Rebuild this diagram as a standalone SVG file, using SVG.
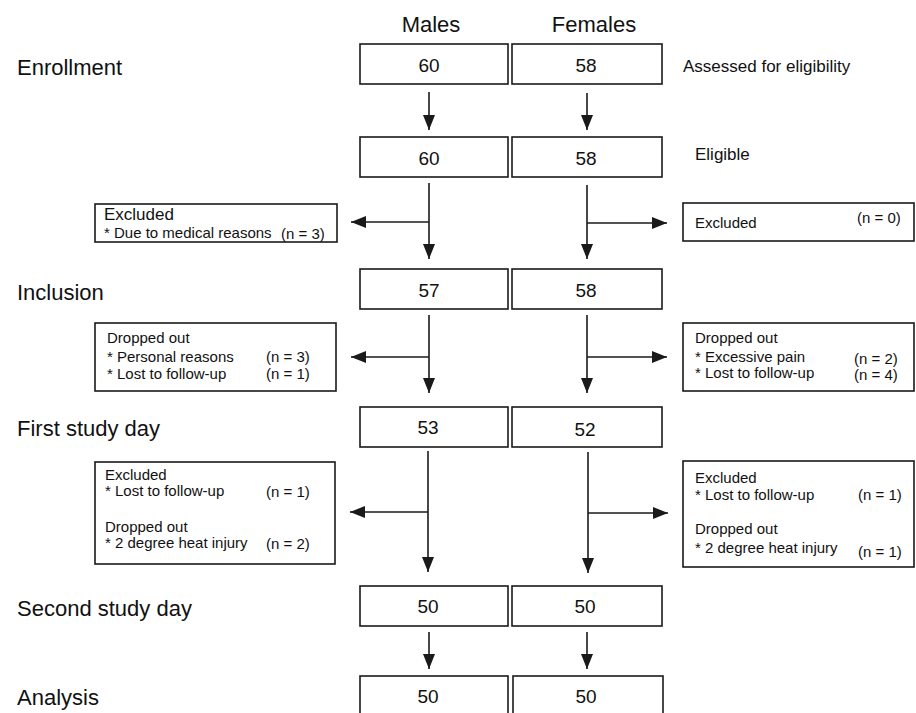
<svg xmlns="http://www.w3.org/2000/svg" width="916" height="713" viewBox="0 0 916 713">
<style>
.b{fill:#fff;stroke:#1a1a1a;stroke-width:1.6}
.c{stroke:#1a1a1a;stroke-width:1.6;fill:none}
text{font-family:"Liberation Sans",Arial,sans-serif;fill:#111}
.L{font-size:22px}
.n{font-size:19px;text-anchor:middle}
.s{font-size:15px}
.m{font-size:17px}
</style>
<defs>
<marker id="ah" markerUnits="userSpaceOnUse" markerWidth="15" markerHeight="12" refX="15" refY="6" orient="auto">
<path d="M0,0 L15,6 L0,12 z" fill="#1a1a1a"/>
</marker>
</defs>
<rect width="916" height="713" fill="#fff"/>
<g id="labels">
<text class="L" x="17" y="75">Enrollment</text>
<text class="L" x="17" y="300">Inclusion</text>
<text class="L" x="17" y="436">First study day</text>
<text class="L" x="17" y="616">Second study day</text>
<text class="L" x="17" y="705">Analysis</text>
<text class="L" x="431" y="32" text-anchor="middle">Males</text>
<text class="L" x="594" y="32" text-anchor="middle">Females</text>
<text class="m" x="683" y="72">Assessed for eligibility</text>
<text class="m" x="695" y="160">Eligible</text>
</g>
<g id="m-enroll"><rect class="b" x="360" y="44" width="148" height="40"/><text class="n" x="429" y="72">60</text></g>
<g id="f-enroll"><rect class="b" x="512" y="44" width="150" height="40"/><text class="n" x="586" y="72">58</text></g>
<g id="m-elig"><rect class="b" x="360" y="137" width="148" height="40"/><text class="n" x="429" y="165">60</text></g>
<g id="f-elig"><rect class="b" x="512" y="137" width="150" height="40"/><text class="n" x="586" y="165">58</text></g>
<g id="m-incl"><rect class="b" x="360" y="269" width="148" height="40"/><text class="n" x="429" y="297">57</text></g>
<g id="f-incl"><rect class="b" x="512" y="269" width="150" height="40"/><text class="n" x="586" y="297">58</text></g>
<g id="m-fsd"><rect class="b" x="360" y="407" width="148" height="40"/><text class="n" x="428" y="434">53</text></g>
<g id="f-fsd"><rect class="b" x="512" y="407" width="150" height="40"/><text class="n" x="585" y="436">52</text></g>
<g id="m-ssd"><rect class="b" x="360" y="586" width="148" height="40"/><text class="n" x="428" y="613">50</text></g>
<g id="f-ssd"><rect class="b" x="512" y="586" width="150" height="40"/><text class="n" x="585" y="613">50</text></g>
<g id="m-ana"><rect class="b" x="360" y="676" width="148" height="42"/><text class="n" x="428" y="703">50</text></g>
<g id="f-ana"><rect class="b" x="513" y="676" width="150" height="42"/><text class="n" x="586" y="703">50</text></g>
<g id="m-excl1"><rect class="b" x="95" y="204" width="242" height="38"/>
<text class="m" x="104" y="220">Excluded</text>
<text class="s" x="104" y="238">* Due to medical reasons</text>
<text class="s" x="281" y="239">(n = 3)</text></g>
<g id="f-excl1"><rect class="b" x="683" y="203" width="231" height="38"/>
<text class="s" x="695" y="228">Excluded</text>
<text class="s" x="857" y="223">(n = 0)</text></g>
<g id="m-drop"><rect class="b" x="95" y="323" width="241" height="68"/>
<text class="s" x="107" y="343">Dropped out</text>
<text class="s" x="107" y="362">* Personal reasons</text>
<text class="s" x="266" y="362">(n = 3)</text>
<text class="s" x="107" y="379">* Lost to follow-up</text>
<text class="s" x="266" y="379">(n = 1)</text></g>
<g id="f-drop"><rect class="b" x="683" y="323" width="231" height="68"/>
<text class="s" x="695" y="343">Dropped out</text>
<text class="s" x="695" y="362">* Excessive pain</text>
<text class="s" x="854" y="364">(n = 2)</text>
<text class="s" x="695" y="378">* Lost to follow-up</text>
<text class="s" x="854" y="380">(n = 4)</text></g>
<g id="m-excl2"><rect class="b" x="95" y="462" width="240" height="102"/>
<text class="s" x="105" y="480">Excluded</text>
<text class="s" x="105" y="496">* Lost to follow-up</text>
<text class="s" x="266" y="497">(n = 1)</text>
<text class="s" x="105" y="532">Dropped out</text>
<text class="s" x="105" y="548">* 2 degree heat injury</text>
<text class="s" x="266" y="549">(n = 2)</text></g>
<g id="f-excl2"><rect class="b" x="683" y="461" width="231" height="106"/>
<text class="s" x="695" y="483">Excluded</text>
<text class="s" x="695" y="500">* Lost to follow-up</text>
<text class="s" x="858" y="500">(n = 1)</text>
<text class="s" x="695" y="534">Dropped out</text>
<text class="s" x="695" y="553">* 2 degree heat injury</text>
<text class="s" x="858" y="557">(n = 1)</text></g>
<g id="connectors">
<line class="c" x1="429" y1="92" x2="429" y2="130" marker-end="url(#ah)"/>
<line class="c" x1="587" y1="93" x2="587" y2="130" marker-end="url(#ah)"/>
<line class="c" x1="429" y1="183" x2="429" y2="259" marker-end="url(#ah)"/>
<line class="c" x1="587" y1="185" x2="587" y2="259" marker-end="url(#ah)"/>
<line class="c" x1="429" y1="222" x2="351" y2="222" marker-end="url(#ah)"/>
<line class="c" x1="587" y1="223" x2="667" y2="223" marker-end="url(#ah)"/>
<line class="c" x1="429" y1="315" x2="429" y2="393" marker-end="url(#ah)"/>
<line class="c" x1="587" y1="315" x2="587" y2="393" marker-end="url(#ah)"/>
<line class="c" x1="429" y1="357" x2="351" y2="357" marker-end="url(#ah)"/>
<line class="c" x1="587" y1="357" x2="667" y2="357" marker-end="url(#ah)"/>
<line class="c" x1="428" y1="451" x2="428" y2="572" marker-end="url(#ah)"/>
<line class="c" x1="588" y1="452" x2="588" y2="573" marker-end="url(#ah)"/>
<line class="c" x1="428" y1="512" x2="350" y2="512" marker-end="url(#ah)"/>
<line class="c" x1="588" y1="513" x2="668" y2="513" marker-end="url(#ah)"/>
<line class="c" x1="429" y1="632" x2="429" y2="669" marker-end="url(#ah)"/>
<line class="c" x1="587" y1="632" x2="587" y2="669" marker-end="url(#ah)"/>
</g>
</svg>
